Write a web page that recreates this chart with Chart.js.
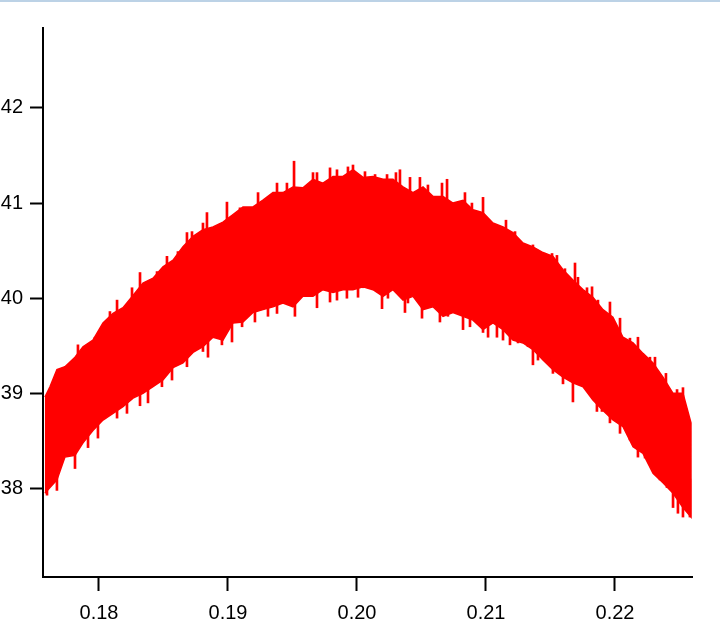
<!DOCTYPE html>
<html>
<head>
<meta charset="utf-8">
<script src="https://cdn.jsdelivr.net/npm/chart.js@4.4.1/dist/chart.umd.min.js"></script>
<style>
html,body{margin:0;padding:0;background:#fff;}
#strip{position:absolute;left:0;top:0;width:720px;height:2px;background:#bcd2e6;z-index:2;}
#wrap{position:absolute;left:0;top:0;width:720px;height:622px;}
</style>
</head>
<body>
<div id="strip"></div>
<div id="wrap"><canvas id="c" width="720" height="622"></canvas></div>
<script>
// Upper edge of the band
const upperX = [0.17581,0.17620,0.17674,0.17736,0.17814,0.17876,0.17953,0.18031,0.18109,0.18186,0.18264,0.18341,0.18419,0.18496,0.18574,0.18651,0.18729,0.18806,0.18884,0.18961,0.19039,0.19116,0.19194,0.19271,0.19349,0.19426,0.19504,0.19581,0.19659,0.19736,0.19814,0.19891,0.19969,0.20047,0.20124,0.20202,0.20279,0.20357,0.20434,0.20512,0.20589,0.20667,0.20744,0.20822,0.20899,0.20977,0.21054,0.21132,0.21209,0.21287,0.21364,0.21442,0.21519,0.21597,0.21674,0.21752,0.21829,0.21907,0.21984,0.22062,0.22140,0.22217,0.22295,0.22372,0.22450,0.22527,0.22589];
const upperY = [38.96,39.07,39.25,39.28,39.38,39.49,39.56,39.74,39.84,39.90,40.03,40.16,40.21,40.33,40.40,40.54,40.65,40.72,40.75,40.80,40.88,40.96,40.96,41.03,41.11,41.11,41.17,41.16,41.25,41.21,41.28,41.28,41.35,41.27,41.28,41.25,41.25,41.17,41.11,41.17,41.07,41.07,41.00,41.03,40.93,40.90,40.79,40.75,40.69,40.58,40.54,40.48,40.44,40.30,40.19,40.09,40.01,39.88,39.80,39.59,39.53,39.42,39.32,39.17,39.00,39.00,38.69];
// Lower edge of the band
const lowerX = [0.17581,0.17620,0.17674,0.17736,0.17814,0.17876,0.17953,0.18031,0.18109,0.18186,0.18264,0.18341,0.18419,0.18496,0.18574,0.18651,0.18729,0.18806,0.18884,0.18961,0.19039,0.19116,0.19194,0.19271,0.19349,0.19426,0.19504,0.19581,0.19659,0.19736,0.19814,0.19891,0.19969,0.20047,0.20124,0.20202,0.20279,0.20357,0.20434,0.20512,0.20589,0.20667,0.20744,0.20822,0.20899,0.20977,0.21054,0.21132,0.21209,0.21287,0.21364,0.21442,0.21519,0.21597,0.21674,0.21752,0.21829,0.21907,0.21984,0.22062,0.22140,0.22217,0.22295,0.22372,0.22450,0.22527,0.22589];
const lowerY = [37.95,38.01,38.09,38.33,38.35,38.48,38.61,38.72,38.79,38.86,38.95,39.00,39.07,39.14,39.27,39.32,39.43,39.49,39.59,39.56,39.74,39.75,39.85,39.88,39.91,39.95,39.91,40.02,40.02,40.09,40.06,40.09,40.09,40.12,40.09,40.02,40.09,39.98,40.02,39.88,39.91,39.81,39.85,39.81,39.77,39.67,39.74,39.67,39.56,39.53,39.46,39.35,39.25,39.17,39.11,39.07,38.93,38.82,38.72,38.65,38.44,38.37,38.16,38.06,37.95,37.80,37.70];
// Spike tips sticking out above the band
const upSpikeX = [0.17837,0.17969,0.18085,0.18140,0.18256,0.18318,0.18450,0.18527,0.18612,0.18682,0.18721,0.18806,0.18837,0.18992,0.19093,0.19233,0.19380,0.19457,0.19512,0.19659,0.19690,0.19791,0.19845,0.19930,0.19969,0.20062,0.20140,0.20233,0.20302,0.20333,0.20411,0.20488,0.20550,0.20659,0.20698,0.20837,0.20891,0.20977,0.21155,0.21225,0.21364,0.21512,0.21550,0.21612,0.21690,0.21713,0.21783,0.21822,0.21868,0.21961,0.22039,0.22116,0.22178,0.22271,0.22310,0.22395,0.22481,0.22527];
const upSpikeY = [39.51,39.59,39.86,39.98,40.11,40.27,40.28,40.44,40.49,40.69,40.70,40.79,40.90,41.01,40.95,41.11,41.21,41.21,41.44,41.32,41.32,41.37,41.35,41.38,41.40,41.33,41.30,41.30,41.32,41.35,41.27,41.27,41.19,41.21,41.25,41.11,41.00,41.06,40.82,40.70,40.56,40.47,40.45,40.31,40.37,40.22,40.11,40.12,39.98,39.96,39.79,39.58,39.59,39.38,39.38,39.21,39.04,39.06];
// Spike tips hanging below the band
const downSpikeX = [0.17597,0.17674,0.17814,0.17915,0.17992,0.18140,0.18217,0.18318,0.18380,0.18488,0.18566,0.18682,0.18806,0.18845,0.18953,0.19031,0.19109,0.19209,0.19310,0.19380,0.19519,0.19690,0.19791,0.19845,0.19922,0.20008,0.20047,0.20194,0.20240,0.20372,0.20395,0.20504,0.20643,0.20705,0.20822,0.20876,0.20977,0.21016,0.21085,0.21132,0.21186,0.21248,0.21326,0.21364,0.21403,0.21519,0.21597,0.21674,0.21860,0.21899,0.21961,0.22039,0.22116,0.22178,0.22233,0.22349,0.22403,0.22450,0.22488,0.22527,0.22581];
const downSpikeY = [37.93,37.98,38.21,38.43,38.53,38.74,38.79,38.87,38.90,39.07,39.14,39.28,39.44,39.38,39.51,39.54,39.70,39.75,39.81,39.84,39.81,39.90,39.96,39.98,40.00,40.01,40.11,39.89,40.00,39.85,39.95,39.79,39.75,39.81,39.67,39.70,39.64,39.59,39.59,39.56,39.51,39.53,39.49,39.30,39.35,39.21,39.10,38.91,38.81,38.81,38.69,38.58,38.51,38.33,38.32,38.09,38.01,37.80,37.74,37.70,37.70];
// Axis ticks
const xTicks = [0.18,0.19,0.20,0.21,0.22];
const yTicks = [38,39,40,41,42];

const RED = '#ff0000';
const SPIKE_LEN = 0.4; // how far a spike reaches back into the solid band
const band = upperX.map((x,i)=>({x:x,y:upperY[i]}))
  .concat(lowerX.map((x,i)=>({x:x,y:lowerY[i]})).reverse());
const upSpikes = upSpikeX.map((x,i)=>({x:x,y:[upSpikeY[i]-SPIKE_LEN, upSpikeY[i]]}));
const downSpikes = downSpikeX.map((x,i)=>({x:x,y:[downSpikeY[i], downSpikeY[i]+SPIKE_LEN]}));

const font = {family:'"Liberation Sans", Arial, sans-serif', size:20};

new Chart(document.getElementById('c'), {
  data: {
    datasets: [
      {type:'line', data:band, borderColor:RED, backgroundColor:RED, borderWidth:1.5,
       pointRadius:0, fill:'shape', tension:0, order:3},
      {type:'bar', data:upSpikes, backgroundColor:RED, borderWidth:0, barThickness:2, order:1, grouped:false},
      {type:'bar', data:downSpikes, backgroundColor:RED, borderWidth:0, barThickness:2, order:2, grouped:false}
    ]
  },
  options: {
    responsive:false, animation:false, events:[],
    layout:{padding:{left:0,top:28,right:28,bottom:0}},
    plugins:{legend:{display:false}, tooltip:{enabled:false}},
    scales:{
      x:{type:'linear', min:0.17566, max:0.22597, offset:false,
        afterBuildTicks:s=>{s.ticks = xTicks.map(v=>({value:v}));},
        afterFit:s=>{s.height=45;},
        grid:{display:true, offset:false, drawOnChartArea:false, drawTicks:true, tickLength:14, tickColor:'#000', tickWidth:2},
        border:{display:true, color:'#000', width:2},
        ticks:{color:'#000', font:font, padding:10, maxRotation:0, autoSkip:false,
          callback:v=>v.toFixed(2)}
      },
      y:{type:'linear', min:37.07, max:42.84,
        afterBuildTicks:s=>{s.ticks = yTicks.map(v=>({value:v}));},
        afterFit:s=>{s.width=43;},
        grid:{display:true, drawOnChartArea:false, drawTicks:true, tickLength:13, tickColor:'#000', tickWidth:2},
        border:{display:true, color:'#000', width:2},
        ticks:{color:'#000', font:font, padding:7, autoSkip:false,
          callback:v=>String(v)}
      }
    }
  }
});
</script>
</body>
</html>
